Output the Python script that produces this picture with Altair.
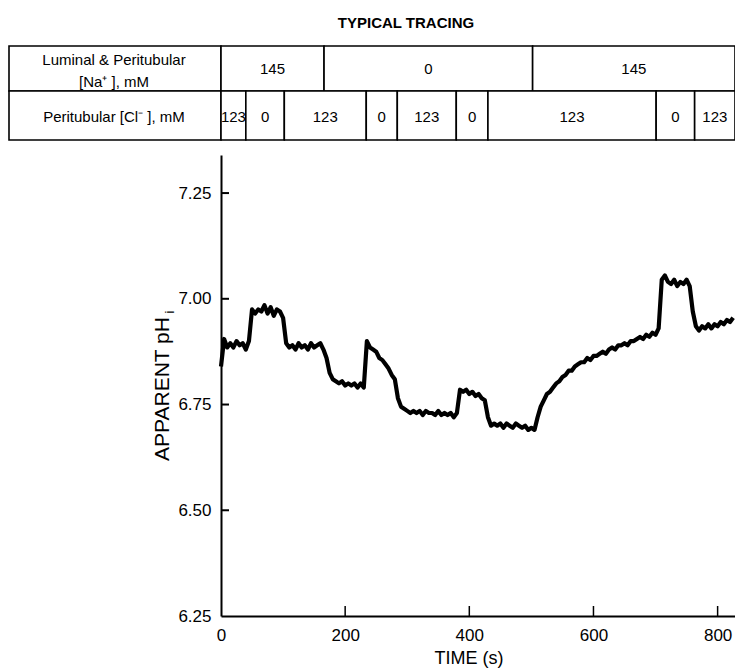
import altair as alt
import pandas as pd

# Apparent intracellular pH, sampled every 5 s from 0 to 825 s
time_s = list(range(0, 830, 5))
ph_values = [
    6.84, 6.905, 6.885, 6.895, 6.885, 6.90, 6.89, 6.895, 6.88, 6.90,
    6.975, 6.965, 6.975, 6.97, 6.985, 6.965, 6.98, 6.96, 6.975, 6.97,
    6.955, 6.895, 6.885, 6.89, 6.88, 6.895, 6.885, 6.89, 6.88, 6.895,
    6.885, 6.89, 6.895, 6.88, 6.86, 6.825, 6.81, 6.805, 6.80, 6.805,
    6.795, 6.80, 6.795, 6.80, 6.79, 6.80, 6.79, 6.90, 6.885, 6.88,
    6.875, 6.86, 6.855, 6.845, 6.835, 6.82, 6.81, 6.765, 6.745, 6.74,
    6.735, 6.73, 6.735, 6.73, 6.735, 6.725, 6.735, 6.73, 6.73, 6.725,
    6.735, 6.725, 6.73, 6.725, 6.73, 6.72, 6.73, 6.785, 6.78, 6.785,
    6.775, 6.78, 6.77, 6.775, 6.765, 6.76, 6.72, 6.70, 6.705, 6.70,
    6.705, 6.695, 6.705, 6.70, 6.695, 6.705, 6.70, 6.695, 6.70, 6.69,
    6.695, 6.69, 6.72, 6.745, 6.76, 6.775, 6.78, 6.79, 6.80, 6.805,
    6.815, 6.82, 6.83, 6.83, 6.84, 6.845, 6.85, 6.85, 6.86, 6.855,
    6.865, 6.865, 6.87, 6.875, 6.87, 6.88, 6.885, 6.88, 6.89, 6.89,
    6.895, 6.89, 6.90, 6.90, 6.905, 6.91, 6.905, 6.915, 6.91, 6.92,
    6.915, 6.93, 7.045, 7.055, 7.04, 7.035, 7.045, 7.03, 7.04, 7.035,
    7.045, 7.03, 6.97, 6.935, 6.925, 6.935, 6.93, 6.94, 6.93, 6.94,
    6.935, 6.945, 6.94, 6.95, 6.945, 6.955,
]

# Solution protocol: segment boundaries (s) and concentrations (mM)
na_bounds = [0, 166, 502, 828]
na_labels = ["145", "0", "145"]
cl_bounds = [0, 40, 102, 234, 284, 379, 430, 701, 763, 828]
cl_labels = ["123", "0", "123", "0", "123", "0", "123", "0", "123"]

x_ticks = [0, 200, 400, 600, 800]
y_ticks = [6.25, 6.50, 6.75, 7.00, 7.25]

FONT = "Liberation Sans"
W, H = 514, 461
X_SCALE = alt.Scale(domain=[0, 828], nice=False, zero=False)
Y_SCALE = alt.Scale(domain=[6.25, 7.34], nice=False, zero=False)

trace = pd.DataFrame({"t": time_s, "ph": ph_values})


def segments(bounds, labels):
    return pd.DataFrame({
        "start": bounds[:-1],
        "end": bounds[1:],
        "mid": [(a + b) / 2 for a, b in zip(bounds[:-1], bounds[1:])],
        "label": labels,
    })


na_df = segments(na_bounds, na_labels)
cl_df = segments(cl_bounds, cl_labels)

line = alt.Chart(trace).mark_line(color="black", strokeWidth=4.2, strokeJoin="round").encode(
    x=alt.X("t:Q", scale=X_SCALE,
            axis=alt.Axis(values=x_ticks, ticks=False, tickSize=0, grid=False, title=None,
                          labelFontSize=17, labelFont=FONT, labelColor="black",
                          labelPadding=11, labelFlush=False,
                          domainColor="black", domainWidth=2)),
    y=alt.Y("ph:Q", scale=Y_SCALE,
            axis=alt.Axis(values=y_ticks, format=".2f", ticks=False, tickSize=0, grid=False,
                          title=None, labelFontSize=17, labelFont=FONT, labelColor="black",
                          labelPadding=10, labelFlush=False,
                          domainColor="black", domainWidth=2)),
)

# Inward-pointing tick marks
xtick_df = pd.DataFrame({"t": x_ticks[1:]})
xticks = alt.Chart(xtick_df).mark_rule(color="black", strokeWidth=1.5).encode(
    x=alt.X("t:Q", scale=X_SCALE),
    y=alt.value(H - 10), y2=alt.value(H),
)
ytick_df = pd.DataFrame({"ph": y_ticks[1:]})
yticks = alt.Chart(ytick_df).mark_rule(color="black", strokeWidth=2).encode(
    y=alt.Y("ph:Q", scale=Y_SCALE),
    x=alt.value(0), x2=alt.value(8),
)

# Protocol table above the tracing
ROW1 = (-109, -64)
ROW2 = (-64, -15)
CELL = dict(fill="white", stroke="black", strokeWidth=1.6)
TXT = dict(font=FONT, fontSize=15, color="black")

na_cells = alt.Chart(na_df).mark_rect(**CELL).encode(
    x=alt.X("start:Q", scale=X_SCALE), x2="end:Q",
    y=alt.value(ROW1[0]), y2=alt.value(ROW1[1]),
)
na_text = alt.Chart(na_df).mark_text(**TXT).encode(
    x=alt.X("mid:Q", scale=X_SCALE), y=alt.value(-86), text="label:N",
)
cl_cells = alt.Chart(cl_df).mark_rect(**CELL).encode(
    x=alt.X("start:Q", scale=X_SCALE), x2="end:Q",
    y=alt.value(ROW2[0]), y2=alt.value(ROW2[1]),
)
cl_text = alt.Chart(cl_df).mark_text(**TXT).encode(
    x=alt.X("mid:Q", scale=X_SCALE), y=alt.value(-38), text="label:N",
)

one = pd.DataFrame({"k": [0]})


def head_cell(y0, y1):
    return alt.Chart(one).mark_rect(**CELL).encode(
        x=alt.value(-212), x2=alt.value(0), y=alt.value(y0), y2=alt.value(y1),
    )


def label(text, x, y, **kw):
    style = dict(TXT)
    style.update(kw)
    return alt.Chart(one).mark_text(text=text, **style).encode(
        x=alt.value(x), y=alt.value(y),
    )


head_na = head_cell(*ROW1)
head_cl = head_cell(*ROW2)
head_na_1 = label("Luminal & Peritubular", -107, -95)
head_na_2 = label("[Na\u207a ], mM", -107, -73)
head_cl_1 = label("Peritubular [Cl\u207b ], mM", -107, -38)

title = label("TYPICAL TRACING", 185, -132, fontWeight="bold")
x_title = label("TIME (s)", 248, 504, fontSize=18)
y_title = label("APPARENT pH", -58, 234, fontSize=21, angle=270)
y_title_sub = label("i", -51, 157, fontSize=13, angle=270)

chart = alt.layer(
    line, xticks, yticks,
    head_na, head_cl, na_cells, cl_cells,
    head_na_1, head_na_2, head_cl_1, na_text, cl_text,
    title, x_title, y_title, y_title_sub,
).properties(
    width=W, height=H,
    padding={"left": 221, "top": 155, "right": 0, "bottom": 56},
    autosize=alt.AutoSizeParams(type="none"),
    view=alt.ViewBackground(stroke="white", strokeWidth=0, fill="white"),
).configure_view(
    stroke="white", strokeWidth=0, strokeOpacity=0
).configure_axis(grid=False).configure(background="white")

chart.save("out.html", embed_options={"renderer": "svg", "actions": False})
